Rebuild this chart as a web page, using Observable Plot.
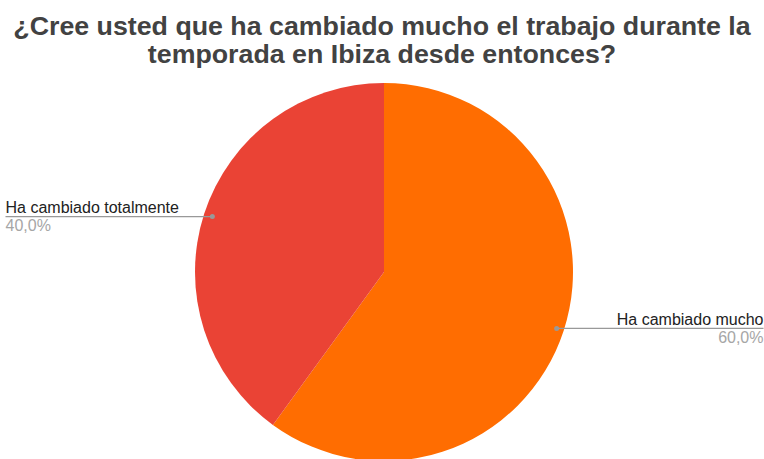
<!DOCTYPE html>
<html>
<head>
<meta charset="utf-8">
<script src="https://cdn.jsdelivr.net/npm/d3@7"></script>
<script src="https://cdn.jsdelivr.net/npm/@observablehq/plot@0.6"></script>
<style>
  html, body { margin: 0; padding: 0; background: #fff; overflow: hidden; }
  #title { height: 70px; box-sizing: border-box; padding-top: 12px; text-align: center;
    font-family: "Liberation Sans", Arial, sans-serif; font-weight: bold; font-size: 25px;
    line-height: 28px; color: #424242; width: 764px; white-space: nowrap;
    transform: scaleX(1.07); transform-origin: 382px 0; }
</style>
</head>
<body>
<div id="title">¿Cree usted que ha cambiado mucho el trabajo durante la<br>temporada en Ibiza desde entonces?</div>
<div id="chart"></div>
<script>
const categories = ["Ha cambiado mucho", "Ha cambiado totalmente"];
const values = [60, 40];
const colors = ["#ff6d01", "#ea4335"];

const W = 764, H = 389;
const cx = 384, cy = 202, R = 189, labelR = 181;

const total = d3.sum(values);
const data = categories.map((c, i) => ({category: c, value: values[i]}));
const arcs = d3.pie().sort(null).value(d => d.value)(data);

const labels = arcs.map(a => {
  const mid = (a.startAngle + a.endAngle) / 2;
  const px = cx + labelR * Math.sin(mid);
  const py = cy - labelR * Math.cos(mid);
  const left = px < cx;
  return {
    category: a.data.category,
    pct: (a.data.value / total * 100).toFixed(1).replace(".", ",") + "%",
    px, py,
    ex: left ? 5 : 763,
    anchor: left ? "start" : "end"
  };
});

function pieMark(index, scales, values, dimensions) {
  const g = d3.create("svg:g")
    .attr("transform", `translate(${scales.x(cx)},${scales.y(cy)})`);
  const arcGen = d3.arc().innerRadius(0).outerRadius(R);
  g.selectAll("path").data(arcs).join("path")
    .attr("d", arcGen)
    .attr("fill", d => scales.color(d.data.category));
  return g.node();
}

const leftL = labels.filter(d => d.anchor === "start");
const rightL = labels.filter(d => d.anchor === "end");

const chart = Plot.plot({
  width: W, height: H, margin: 0,
  x: {domain: [0, W], range: [0, W], axis: null},
  y: {domain: [0, H], range: [0, H], axis: null},
  color: {domain: categories, range: colors},
  style: {fontFamily: "'Liberation Sans', Arial, sans-serif", background: "#fff"},
  marks: [
    pieMark,
    Plot.link(labels, {x1: "px", y1: "py", x2: "ex", y2: "py", stroke: "#999", strokeWidth: 1.3}),
    Plot.dot(labels, {x: "px", y: "py", r: 2.5, fill: "#999"}),
    Plot.text(leftL, {x: "ex", y: "py", text: "category", textAnchor: "start", dy: -9, fontSize: 16, fill: "#222"}),
    Plot.text(rightL, {x: "ex", y: "py", text: "category", textAnchor: "end", dy: -9, fontSize: 16, fill: "#222"}),
    Plot.text(leftL, {x: "ex", y: "py", text: "pct", textAnchor: "start", dy: 9, fontSize: 16, fill: "#a6a6a6"}),
    Plot.text(rightL, {x: "ex", y: "py", text: "pct", textAnchor: "end", dy: 9, fontSize: 16, fill: "#a6a6a6"})
  ]
});
document.getElementById("chart").appendChild(chart);
</script>
</body>
</html>
